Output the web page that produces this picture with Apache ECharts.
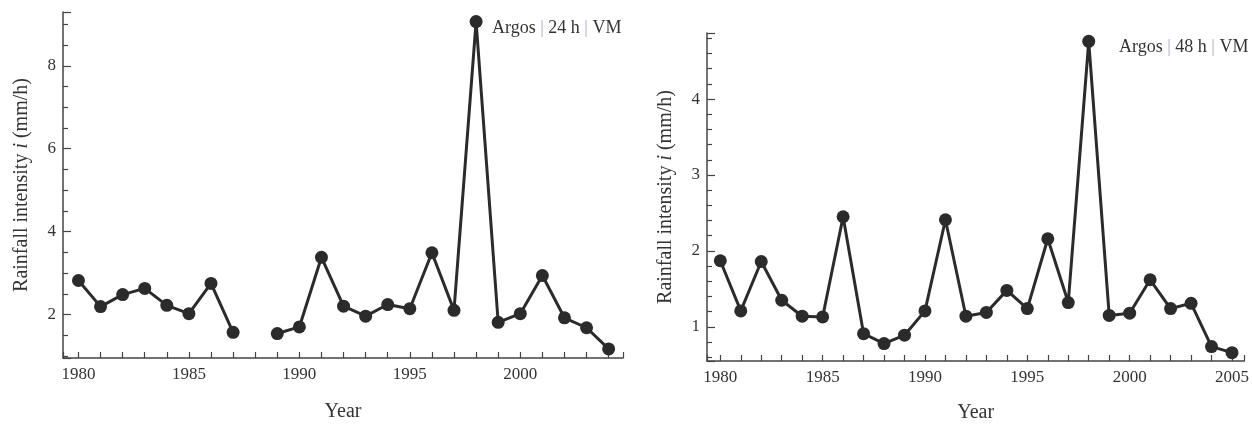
<!DOCTYPE html>
<html>
<head>
<meta charset="utf-8">
<script src="https://cdn.jsdelivr.net/npm/echarts@6/dist/echarts.min.js"></script>
<style>
  html, body { margin: 0; padding: 0; background: #fff; }
  #chart { width: 1252px; height: 428px; }
</style>
</head>
<body>
<div id="chart"></div>
<script>
// years and rainfall intensity (mm/h), 1988 missing in the 24 h series
var years24 = [1980, 1981, 1982, 1983, 1984, 1985, 1986, 1987, 1988, 1989, 1990, 1991,
    1992, 1993, 1994, 1995, 1996, 1997, 1998, 1999, 2000, 2001, 2002, 2003, 2004];
var rain24 = [2.82, 2.19, 2.48, 2.63, 2.22, 2.02, 2.75, 1.57, null, 1.54, 1.70, 3.38,
    2.20, 1.96, 2.24, 2.14, 3.49, 2.10, 9.07, 1.81, 2.02, 2.94, 1.92, 1.68, 1.17];

var years48 = [1980, 1981, 1982, 1983, 1984, 1985, 1986, 1987, 1988, 1989, 1990, 1991,
    1992, 1993, 1994, 1995, 1996, 1997, 1998, 1999, 2000, 2001, 2002, 2003, 2004, 2005];
var rain48 = [1.87, 1.21, 1.86, 1.35, 1.14, 1.13, 2.45, 0.91, 0.78, 0.89, 1.21, 2.41,
    1.14, 1.19, 1.48, 1.24, 2.16, 1.32, 4.76, 1.15, 1.18, 1.62, 1.24, 1.31, 0.74, 0.66];

var label24 = 'Argos | 24 h | VM';
var label48 = 'Argos | 48 h | VM';

var serif = '"Liberation Serif", "DejaVu Serif", serif';
var ink = '#333';

function pairs(xs, ys) {
    return xs.map(function (x, i) { return [x, ys[i]]; });
}

function tagText(s) {
    // light pipes between the parts
    return s.split('|').map(function (p) { return '{a|' + p + '}'; }).join('{p||}');
}

function xAxisOf(idx, min, max, gap) {
    return {
        type: 'value', gridIndex: idx, min: min, max: max, splitNumber: 5,
        name: 'Year', nameLocation: 'middle', nameGap: gap,
        nameTextStyle: { fontFamily: serif, fontSize: 20, color: ink },
        axisLine: { lineStyle: { color: '#444', width: 1.5 } },
        axisTick: { inside: true, length: 6, lineStyle: { color: '#444', width: 1.2 } },
        minorTick: { show: true, splitNumber: 5, length: 6, lineStyle: { color: '#444', width: 1.2 } },
        splitLine: { show: false },
        axisLabel: {
            fontFamily: serif, fontSize: 17, color: ink, margin: 8,
            formatter: function (v) { return v % 5 === 0 ? String(v) : ''; }
        }
    };
}

function yAxisOf(idx, min, max, step, minorSplit, split) {
    return {
        type: 'value', gridIndex: idx, min: min, max: max, splitNumber: split,
        name: 'Rainfall intensity {i|i} (mm/h)', nameLocation: 'middle', nameGap: 31,
        nameTextStyle: {
            fontFamily: serif, fontSize: 20, color: ink,
            rich: { i: { fontFamily: serif, fontSize: 20, fontStyle: 'italic', color: ink } }
        },
        axisLine: { show: true, lineStyle: { color: '#444', width: 1.5 } },
        axisTick: { show: true, inside: true, length: 8, lineStyle: { color: '#444', width: 1.2 } },
        minorTick: { show: true, splitNumber: minorSplit, length: 5, lineStyle: { color: '#444', width: 1.2 } },
        splitLine: { show: false },
        axisLabel: {
            fontFamily: serif, fontSize: 17, color: ink, margin: 7,
            formatter: function (v) { return Math.abs(v % step) < 1e-9 ? String(v) : ''; }
        }
    };
}

function seriesOf(idx, data) {
    return {
        type: 'line', xAxisIndex: idx, yAxisIndex: idx, data: data,
        connectNulls: false, symbol: 'circle', symbolSize: 13,
        lineStyle: { color: '#2b2b2b', width: 3 },
        itemStyle: { color: '#2b2b2b' },
        animation: false
    };
}

var chart = echarts.init(document.getElementById('chart'));

var tagRich = {
    a: { fontFamily: serif, fontSize: 18, fontWeight: 'normal', color: ink },
    p: { fontFamily: serif, fontSize: 18, fontWeight: 'normal', color: '#b6a8c8' }
};

chart.setOption({
    backgroundColor: '#fff',
    title: [
        { text: tagText(label24), left: 487, top: 14, textStyle: { fontWeight: 'normal', rich: tagRich } },
        { text: tagText(label48), left: 1114, top: 33, textStyle: { fontWeight: 'normal', rich: tagRich } }
    ],
    grid: [
        { left: 63, top: 12, width: 560, height: 346 },
        { left: 707, top: 33, width: 541, height: 335 }
    ],
    xAxis: [
        xAxisOf(0, 1979.3, 2004.65, 44),
        xAxisOf(1, 1979.35, 2005.6, 42)
    ],
    yAxis: [
        yAxisOf(0, 0.95, 9.3, 2, 4, 4),
        yAxisOf(1, 0.55, 4.87, 1, 5, 4)
    ],
    series: [
        seriesOf(0, pairs(years24, rain24)),
        seriesOf(1, pairs(years48, rain48))
    ]
});
</script>
</body>
</html>
